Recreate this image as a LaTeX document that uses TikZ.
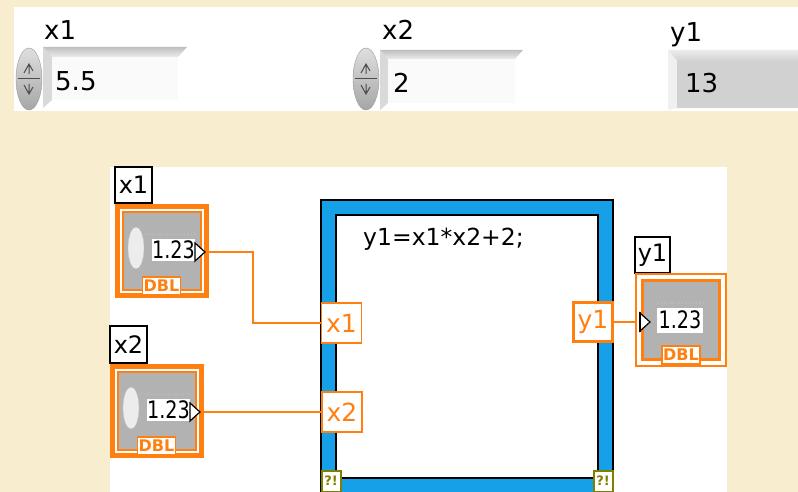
\documentclass[tikz,border=0pt]{standalone}
\usepackage{fontspec}
\setmainfont{DejaVu Sans}
\newfontfamily\narrowfont[FakeStretch=0.8]{DejaVu Sans}
\definecolor{lvorange}{RGB}{255,128,16}
\definecolor{lvblue}{RGB}{22,160,232}
\definecolor{parch}{RGB}{249,237,207}
\definecolor{errolive}{RGB}{128,128,0}
\definecolor{termgray}{RGB}{178,178,178}
\definecolor{fieldgray}{RGB}{209,209,209}
\newcommand{\fs}[1]{\fontsize{#1}{#1}\selectfont}
\tikzset{
  wire/.style={draw=lvorange, line width=1.6},
  paneltext/.style={inner sep=0, font=\fs{26}},
  lblbox/.style={draw=black, line width=1.5, fill=white, inner sep=0, font=\fs{24}},
  tunnel/.style={draw=lvorange, line width=1.6, fill=white, text=lvorange, inner sep=0,
    minimum width=40, minimum height=40, font=\fs{25}},
  errbox/.style={draw=errolive, line width=2, fill=white, text=errolive, inner sep=0,
    minimum width=19, minimum height=21, font=\bfseries\fs{13}},
  dblbox/.style={draw=lvorange, line width=1.5, fill=white, text=lvorange, inner sep=0,
    minimum width=38, minimum height=18, font=\bfseries\fs{16}},
  numfield/.style={fill=white, inner sep=0, font=\narrowfont\fs{24}},
  % up/down spinner of a numeric control
  spinner/.pic={
    \shade[top color=gray!25, bottom color=gray!70, draw=gray!80] (0,0) ellipse [x radius=13pt, y radius=31pt];
    \draw[gray!60!black, line width=1] (-11,0) -- (11,0);
    \draw[gray!60!black, line width=1] (-5,-6) -- (0,-15) -- (4,-8) (0,-15) -- (0,-5);
    \draw[gray!60!black, line width=1] (-5,6) -- (0,15) -- (4,8) (0,15) -- (0,5);
  },
  % numeric control terminal (thick outer frame)
  ctrlterm/.pic={
    \fill[lvorange] (0,0) rectangle (94,94);
    \fill[white] (5,5) rectangle (89,89);
    \fill[lvorange] (7,7) rectangle (87,87);
    \fill[termgray] (9,9) rectangle (85,85);
    \draw[gray!45, fill=gray!15] (21,44) ellipse [x radius=8pt, y radius=21pt];
    \draw[gray!55, line width=1.5, dotted] (30,30) -- (82,30);
    \node[numfield, minimum width=43, minimum height=22] (-val) at (58.5,46) {1.23};
    \draw[black, line width=1.2, fill=white] (80,39) -- (80,57) -- (90,48) -- cycle;
    \node[dblbox] (-type) at (46.5,82) {DBL};
    \coordinate (-out) at (91,48);
  },
  % numeric indicator terminal (thin outer frame)
  indterm/.pic={
    \draw[lvorange, line width=2] (1,1) rectangle (91,93);
    \fill[white] (2,2) rectangle (90,92);
    \draw[lvorange, line width=3] (7.5,7.5) rectangle (84.5,86.5);
    \fill[termgray] (9,9) rectangle (83,85);
    \draw[gray!55, line width=1.5, dotted] (22,30) -- (70,30);
    \node[numfield, minimum width=46, minimum height=25] (-val) at (45,47) {1.23};
    \draw[black, line width=1.2, fill=white] (5,40) -- (5,58) -- (15,49) -- cycle;
    \draw[black, line width=2] (5,39) -- (5,59);
    \node[dblbox] (-type) at (46,82) {DBL};
    \coordinate (-in) at (1,49);
  },
}
\begin{document}
\begin{tikzpicture}[x=1pt, y=-1pt]
\useasboundingbox (0,0) rectangle (798,492);
\fill[parch] (0,0) rectangle (798,492);

% ---------- front panel ----------
\fill[white] (14,7) rectangle (798,111);

% x1 control
\node[paneltext, anchor=base west] (fx1lbl) at (44,40) {x1};
\shade[top color=gray!50, bottom color=gray!15] (43,47) -- (187,47) -- (178,57) -- (52,57) -- cycle;
\fill[gray!30] (43,47) -- (52,57) -- (52,100) -- (43,108) -- cycle;
\fill[gray!4] (52,57) rectangle (178,100);
\pic at (29,79) {spinner};
\node[paneltext, anchor=base west] (fx1val) at (55,91) {5.5};

% x2 control
\node[paneltext, anchor=base west] (fx2lbl) at (382,40) {x2};
\shade[top color=gray!50, bottom color=gray!15] (380,50) -- (523,50) -- (515,59) -- (388,59) -- cycle;
\fill[gray!30] (380,50) -- (388,59) -- (388,103) -- (380,110) -- cycle;
\fill[gray!4] (388,59) rectangle (515,103);
\pic at (366,79) {spinner};
\node[paneltext, anchor=base west] (fx2val) at (393,93) {2};

% y1 indicator
\node[paneltext, anchor=base west] (fy1lbl) at (670,42) {y1};
\shade[top color=gray!15, bottom color=gray!35] (668,50) -- (798,50) -- (798,61) -- (677,61) -- cycle;
\fill[gray!12] (668,50) -- (677,61) -- (677,108) -- (668,110) -- cycle;
\fill[fieldgray] (677,61) rectangle (798,108);
\node[paneltext, anchor=base west] (fy1val) at (685,93) {13};

% ---------- block diagram ----------
\fill[white] (110,167) rectangle (727,492);

% formula node frame
\filldraw[fill=lvblue, draw=black, line width=1.8] (321,200) rectangle (613,500);
\filldraw[fill=white, draw=black, line width=2.2] (336,215) rectangle (598,478);
\node[inner sep=0, font=\fs{23.5}, anchor=base west] (formula) at (363,245) {y1=x1*x2+2;};

% terminals and their labels
\node[lblbox, minimum width=37, minimum height=36] (lx1) at (133.5,185) {x1};
\pic (cx1) at (115,204) {ctrlterm};
\node[lblbox, minimum width=37, minimum height=37] (lx2) at (128.5,344.5) {x2};
\pic (cx2) at (110,364) {ctrlterm};
\node[lblbox, minimum width=35, minimum height=36] (ly1) at (652.5,255) {y1};
\pic (iy1) at (635,273) {indterm};

% tunnels on the frame
\node[tunnel] (tx1) at (341.5,323) {x1};
\node[tunnel] (tx2) at (342,412) {x2};
\node[tunnel, line width=3, minimum width=39, minimum height=39] (ty1) at (593,322) {y1};

% error terminals
\node[errbox] (err1) at (331,481) {?!};
\node[errbox] (err2) at (603,481) {?!};

% wires
\draw[wire] (cx1-out) -- ++(47,0) |- (tx1.west);
\draw[wire] (cx2-out) -- (tx2.west);
\draw[wire] (ty1.east) -- (iy1-in);
\end{tikzpicture}
\end{document}
